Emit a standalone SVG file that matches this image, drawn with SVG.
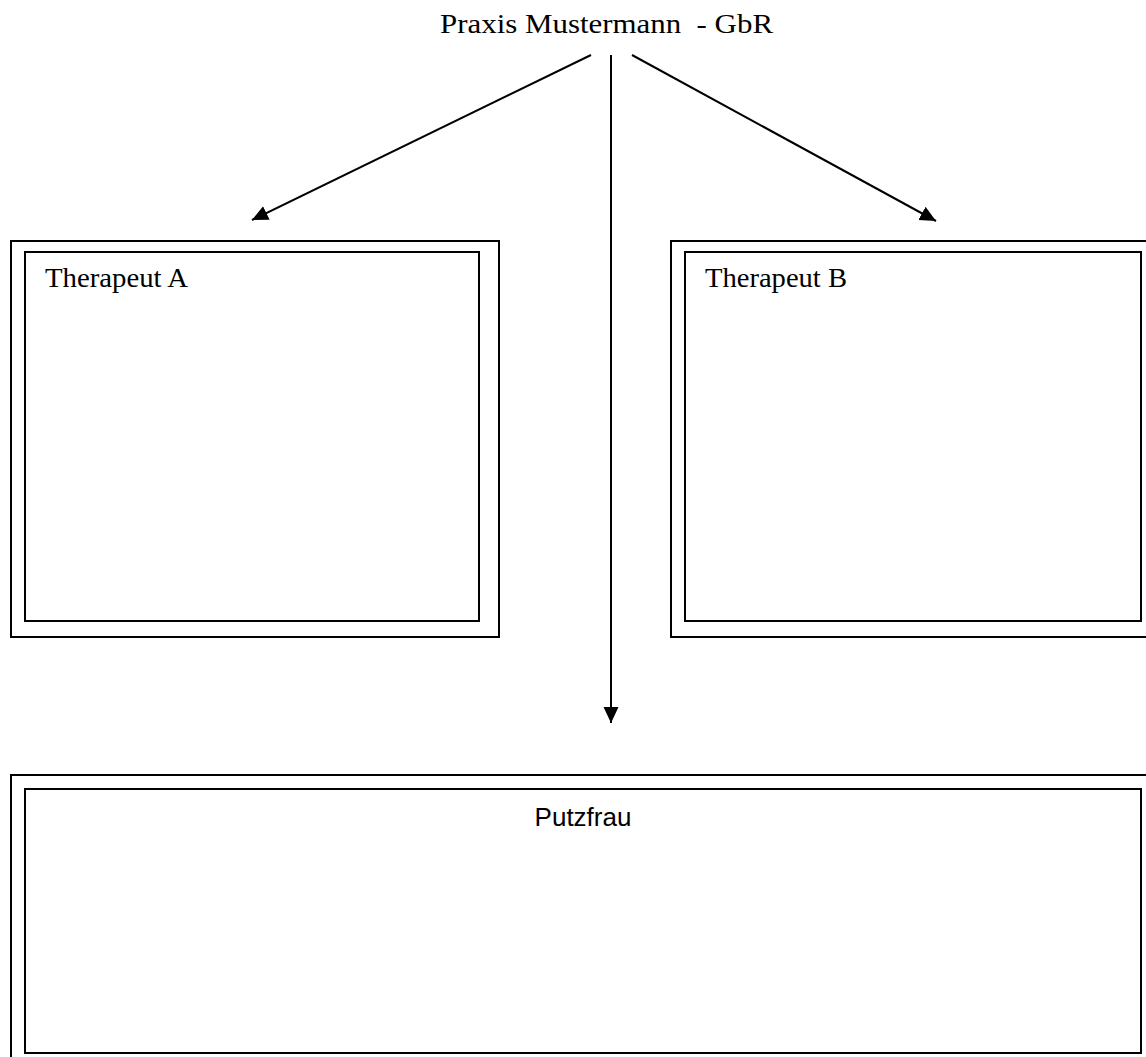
<svg xmlns="http://www.w3.org/2000/svg" width="1146" height="1057" viewBox="0 0 1146 1057">
<style>
.box{fill:none;stroke:#000;stroke-width:2}
.serif{font-family:"Liberation Serif","Times New Roman",serif;font-size:28px;fill:#000}
.sans{font-family:"Liberation Sans",Arial,sans-serif;font-size:26px;fill:#000}
.conn{stroke:#000;stroke-width:2;fill:none}
</style>
<defs>
<marker id="ah" markerUnits="userSpaceOnUse" markerWidth="18" markerHeight="16" refX="16" refY="7.5" orient="auto">
<path d="M0,0 L16,7.5 L0,15 Z" fill="#000"/>
</marker>
</defs>
<rect width="1146" height="1057" fill="#fff"/>
<g id="title">
<text class="serif" x="440" y="33" textLength="333" lengthAdjust="spacingAndGlyphs" xml:space="preserve">Praxis Mustermann  - GbR</text>
</g>
<g id="therapeut-a">
<rect class="box" x="11" y="241" width="488" height="396"/>
<rect class="box" x="25" y="252" width="454" height="369"/>
<text class="serif" x="45" y="287" textLength="143" lengthAdjust="spacingAndGlyphs">Therapeut A</text>
</g>
<g id="therapeut-b">
<rect class="box" x="671" y="241" width="478" height="396"/>
<rect class="box" x="685" y="252" width="456" height="369"/>
<text class="serif" x="705" y="287" textLength="142" lengthAdjust="spacingAndGlyphs">Therapeut B</text>
</g>
<g id="putzfrau">
<rect class="box" x="11" y="775" width="1138" height="285"/>
<rect class="box" x="25" y="789" width="1116" height="264"/>
<text class="sans" x="583" y="826" text-anchor="middle">Putzfrau</text>
</g>
<g id="connectors">
<line class="conn" x1="591" y1="55" x2="252" y2="220" marker-end="url(#ah)"/>
<line class="conn" x1="632" y1="55" x2="936" y2="221" marker-end="url(#ah)"/>
<line class="conn" x1="611" y1="55" x2="611" y2="723" marker-end="url(#ah)"/>
</g>
</svg>
